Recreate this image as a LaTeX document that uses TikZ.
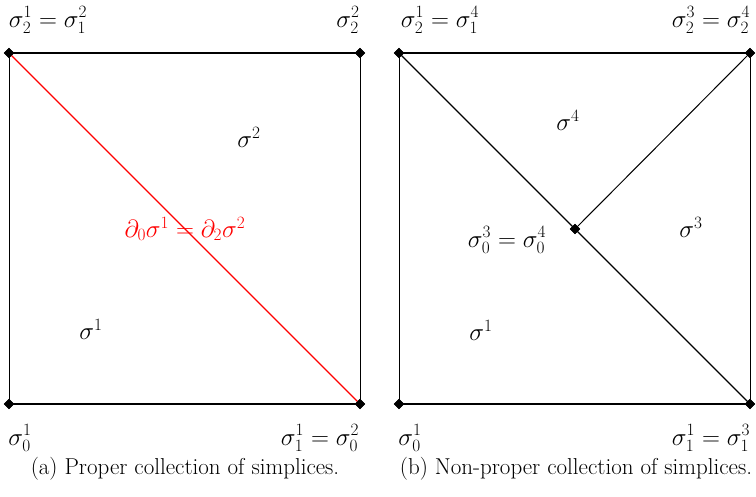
\documentclass[tikz,border=0pt]{standalone}
\usetikzlibrary{shapes.geometric}
\begin{document}
\begin{tikzpicture}[x=1pt,y=-1pt,
  vtx/.style={diamond,fill=black,inner sep=0pt,minimum size=10.5pt},
  lbl/.style={inner sep=0pt,font=\fontsize{23}{27}\selectfont},
  captxt/.style={inner sep=0pt,font=\fontsize{23}{27}\selectfont},
  hedge/.style={line width=2.2pt},
  vedge/.style={line width=0.9pt},
  diag/.style={line width=1.4pt}]
\useasboundingbox (0,0) rectangle (756,497);
% left square
\node[vtx] (a00) at (9,404) {};
\node[vtx] (a10) at (360,404) {};
\node[vtx] (a01) at (9,53) {};
\node[vtx] (a11) at (360,53) {};
\draw[hedge] (a00.center) -- (a10.center);
\draw[hedge] (a01.center) -- (a11.center);
\draw[vedge] (a00.center) -- (a01.center);
\draw[vedge] (a10.center) -- (a11.center);
\draw[red,line width=1.2pt] (a01.center) -- (a10.center);
\node[vtx] at (9,404) {};
\node[vtx] at (360,404) {};
\node[vtx] at (9,53) {};
\node[vtx] at (360,53) {};
\node[lbl] (la1) at (48,20) {$\sigma_2^1=\sigma_1^2$};
\node[lbl] (la2) at (348,20) {$\sigma_2^2$};
\node[lbl] (la3) at (249,137) {$\sigma^2$};
\node[lbl,red] (la4) at (185,229) {$\partial_0\sigma^1=\partial_2\sigma^2$};
\node[lbl] (la5) at (91,329) {$\sigma^1$};
\node[lbl] (la6) at (20,438) {$\sigma_0^1$};
\node[lbl] (la7) at (320,438) {$\sigma_1^1=\sigma_0^2$};
\node[captxt] (capa) at (185,469) {(a) Proper collection of simplices.};
% right square
\node[vtx] (b00) at (399,404) {};
\node[vtx] (b10) at (750,404) {};
\node[vtx] (b01) at (399,53) {};
\node[vtx] (b11) at (750,53) {};
\node[vtx] (bc) at (575,229) {};
\draw[hedge] (b00.center) -- (b10.center);
\draw[hedge] (b01.center) -- (b11.center);
\draw[vedge] (b00.center) -- (b01.center);
\draw[vedge] (b10.center) -- (b11.center);
\draw[diag] (b01.center) -- (b10.center);
\draw[line width=1pt] (bc.center) -- (b11.center);
\node[vtx] at (399,404) {};
\node[vtx] at (750,404) {};
\node[vtx] at (399,53) {};
\node[vtx] at (750,53) {};
\node[vtx] at (575,229) {};
\node[lbl] (lb1) at (440,20) {$\sigma_2^1=\sigma_1^4$};
\node[lbl] (lb2) at (711,20) {$\sigma_2^3=\sigma_2^4$};
\node[lbl] (lb3) at (568,120) {$\sigma^4$};
\node[lbl] (lb4) at (507,240) {$\sigma_0^3=\sigma_0^4$};
\node[lbl] (lb5) at (691,227) {$\sigma^3$};
\node[lbl] (lb6) at (481,330) {$\sigma^1$};
\node[lbl] (lb7) at (410,438) {$\sigma_0^1$};
\node[lbl] (lb8) at (711,438) {$\sigma_1^1=\sigma_1^3$};
\node[captxt] (capb) at (576,469) {(b) Non-proper collection of simplices.};
\end{tikzpicture}
\end{document}
